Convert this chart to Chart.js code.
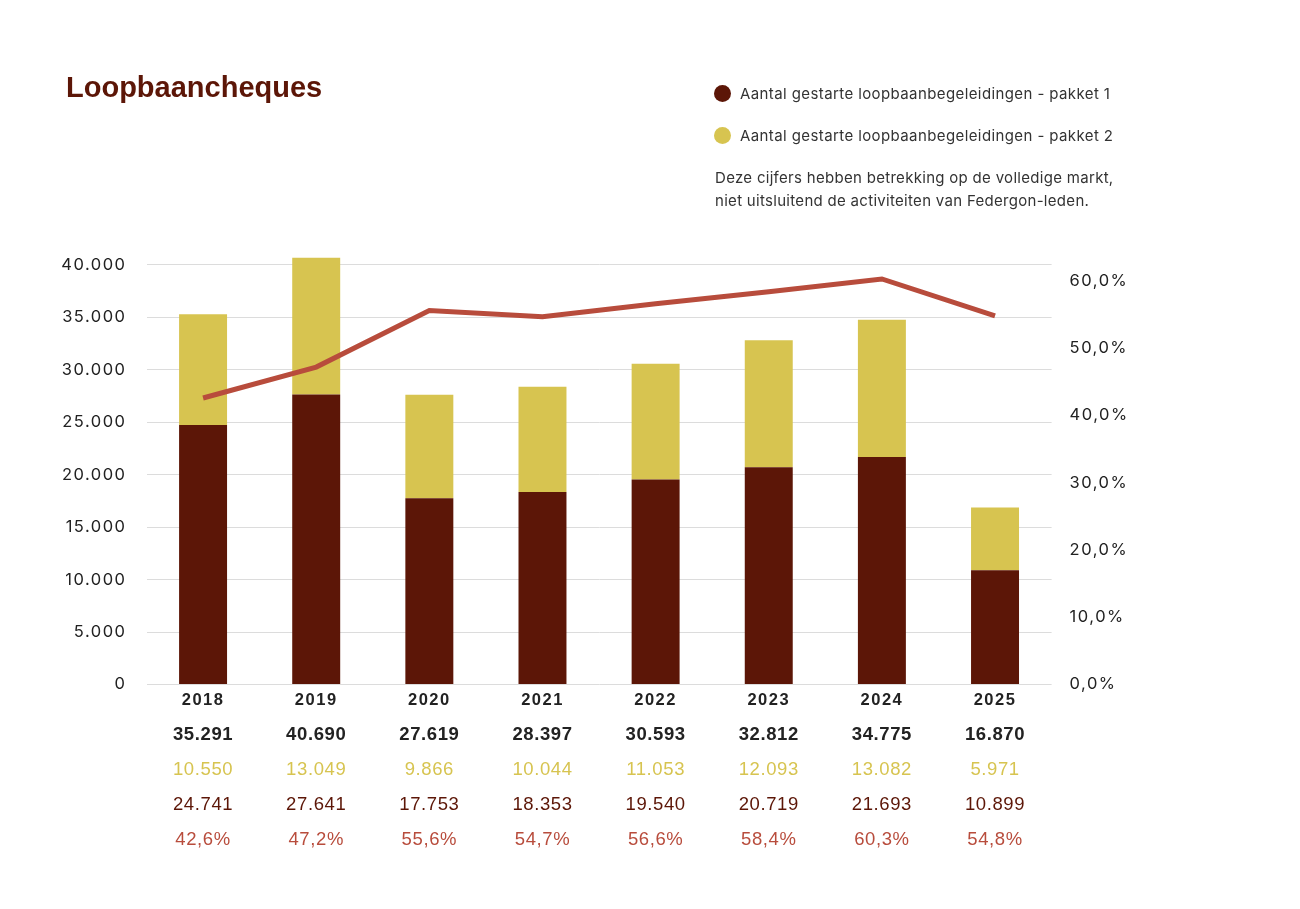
<!DOCTYPE html>
<html lang="nl">
<head>
<meta charset="utf-8">
<title>Loopbaancheques</title>
<script src="https://cdn.jsdelivr.net/npm/chart.js@4.4.1/dist/chart.umd.min.js"></script>
<style>
  html, body { margin: 0; padding: 0; background: #fff; }
  #wrap { position: relative; width: 1300px; height: 909px; overflow: hidden; }
  #chart { position: absolute; left: 0; top: 0; }
  .title { position: absolute; left: 66px; top: 71px; font: bold 29px "Liberation Sans", Arial, sans-serif; color: #5c1607; }
  .leg { position: absolute; left: 714px; font: 15px Inter, "Noto Sans", sans-serif; letter-spacing: 0.4px; color: #333; display: flex; align-items: center; }
  .leg i { display: inline-block; width: 17px; height: 17px; border-radius: 50%; margin-right: 9px; }
  .note { position: absolute; left: 715px; top: 166px; font: 15px Inter, "Noto Sans", sans-serif; letter-spacing: 0.3px; color: #333; line-height: 23px; }
</style>
</head>
<body>
<div id="wrap">
  <canvas id="chart" width="1300" height="909"></canvas>
  <div class="title">Loopbaancheques</div>
  <div class="leg" style="top:84px"><i style="background:#5c1607"></i>Aantal gestarte loopbaanbegeleidingen - pakket 1</div>
  <div class="leg" style="top:126px"><i style="background:#d7c450"></i>Aantal gestarte loopbaanbegeleidingen - pakket 2</div>
  <div class="note">Deze cijfers hebben betrekking op de volledige markt,<br>niet uitsluitend de activiteiten van Federgon-leden.</div>
</div>
<script>
// data
const jaren   = ["2018", "2019", "2020", "2021", "2022", "2023", "2024", "2025"];
const pakket1 = [24741, 27641, 17753, 18353, 19540, 20719, 21693, 10899];
const pakket2 = [10550, 13049, 9866, 10044, 11053, 12093, 13082, 5971];
const totaal  = [35291, 40690, 27619, 28397, 30593, 32812, 34775, 16870];
const aandeel = [42.6, 47.2, 55.6, 54.7, 56.6, 58.4, 60.3, 54.8];
const tickAantal = [0, 5000, 10000, 15000, 20000, 25000, 30000, 35000, 40000];
const tickPct    = [0, 10, 20, 30, 40, 50, 60];

const DONKER = "#5c1607";
const GEEL   = "#d7c450";
const ROOD   = "#b84c3c";

const fmtNum = (n) => String(Math.round(n)).replace(/\B(?=(\d{3})+(?!\d))/g, ".");
const fmtPct = (n, d) => n.toFixed(d).replace(".", ",") + "%";

// wat letterspatiëring voor de as-labels
const spatiePlugin = {
  id: "spatie",
  beforeDraw(chart) { chart.ctx.letterSpacing = "1.5px"; }
};

// tabel onder de x-as
const tabelPlugin = {
  id: "tabel",
  afterDraw(chart) {
    const { ctx, scales: { x } } = chart;
    const rijen = [
      { y: 735, vals: totaal.map(fmtNum),            color: "#222", font: "bold 18.5px 'Liberation Sans', Arial, sans-serif" },
      { y: 770, vals: pakket2.map(fmtNum),           color: GEEL,   font: "18.5px 'Liberation Sans', Arial, sans-serif" },
      { y: 805, vals: pakket1.map(fmtNum),           color: DONKER, font: "18.5px 'Liberation Sans', Arial, sans-serif" },
      { y: 840, vals: aandeel.map(v => fmtPct(v,1)), color: ROOD,   font: "18.5px 'Liberation Sans', Arial, sans-serif" }
    ];
    ctx.save();
    ctx.letterSpacing = "0.6px";
    ctx.textAlign = "center";
    ctx.textBaseline = "middle";
    rijen.forEach(r => {
      ctx.font = r.font;
      ctx.fillStyle = r.color;
      r.vals.forEach((t, i) => ctx.fillText(t, x.getPixelForValue(i), r.y));
    });
    ctx.restore();
  }
};

new Chart(document.getElementById("chart"), {
  data: {
    labels: jaren,
    datasets: [
      { type: "line", label: "Aandeel", data: aandeel, yAxisID: "y1", borderColor: ROOD, borderWidth: 5,
        pointRadius: 0, tension: 0, order: 0 },
      { type: "bar", label: "pakket 1", data: pakket1, yAxisID: "y", backgroundColor: DONKER, order: 1,
        categoryPercentage: 1, barPercentage: 0.424 },
      { type: "bar", label: "pakket 2", data: pakket2, yAxisID: "y", backgroundColor: GEEL, order: 1,
        categoryPercentage: 1, barPercentage: 0.424 }
    ]
  },
  options: {
    responsive: false,
    animation: false,
    layout: { padding: { top: 244, left: 0, right: 0, bottom: 0 } },
    plugins: { legend: { display: false }, tooltip: { enabled: false } },
    scales: {
      x: {
        stacked: true,
        grid: { display: false, drawTicks: false },
        border: { display: false },
        ticks: { color: "#222", padding: 6, font: { family: "'Liberation Sans', Arial, sans-serif", size: 16.5, weight: "bold" } },
        afterFit: (s) => { s.height = 224.5; }
      },
      y: {
        stacked: true,
        position: "left",
        min: 0, max: 42000,
        grid: { color: "#dcdcdc", lineWidth: 1, drawTicks: false },
        border: { display: false },
        ticks: { padding: 20, color: "#222",
                 font: { family: "Inter, 'Noto Sans', sans-serif", size: 16.5 },
                 callback: (v) => fmtNum(v) },
        afterBuildTicks: (s) => { s.ticks = tickAantal.map(v => ({ value: v })); },
        afterFit: (s) => { s.width = 146.5; }
      },
      y1: {
        position: "right",
        min: 0, max: 65.5,
        grid: { display: false, drawTicks: false },
        border: { display: false },
        ticks: { padding: 18, color: "#222",
                 font: { family: "Inter, 'Noto Sans', sans-serif", size: 16.5 },
                 callback: (v) => fmtPct(v, 1) },
        afterBuildTicks: (s) => { s.ticks = tickPct.map(v => ({ value: v })); },
        afterFit: (s) => { s.width = 248.4; }
      }
    }
  },
  plugins: [spatiePlugin, tabelPlugin]
});
</script>
</body>
</html>
